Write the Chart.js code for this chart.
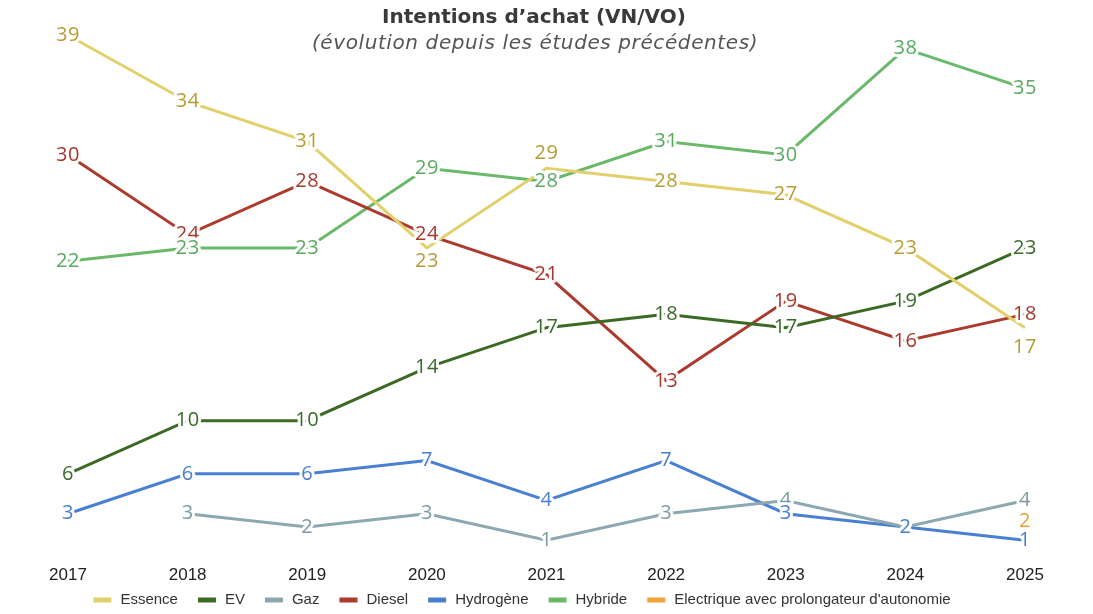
<!DOCTYPE html>
<html>
<head>
<meta charset="utf-8">
<script src="https://cdn.jsdelivr.net/npm/chart.js@4/dist/chart.umd.min.js"></script>
<style>
  html, body { margin: 0; padding: 0; background: #fff; }
  #wrap { width: 1093px; height: 614px; }
</style>
</head>
<body>
<div id="wrap"><canvas id="myChart"></canvas></div>
<script>
var years = ["2017", "2018", "2019", "2020", "2021", "2022", "2023", "2024", "2025"];

var essence = [39, 34, 31, 23, 29, 28, 27, 23, 17];
var ev = [6, 10, 10, 14, 17, 18, 17, 19, 23];
var gaz = [null, 3, 2, 3, 1, 3, 4, 2, 4];
var diesel = [30, 24, 28, 24, 21, 13, 19, 16, 18];
var hydrogene = [3, 6, 6, 7, 4, 7, 3, 2, 1];
var hybride = [22, 23, 23, 29, 28, 31, 30, 38, 35];
var electrique = [null, null, null, null, null, null, null, null, 2];

// label nudges (px) where labels would overlap
var labelShift = {
    "Essence": {3: 13, 4: -15, 8: 20},
    "Electrique avec prolongateur d'autonomie": {8: -6}
};

function serie(label, values, line, text) {
    return {
        label: label,
        data: values,
        borderColor: line,
        backgroundColor: line,
        labelColor: text,
        borderWidth: 3,
        pointRadius: 0,
        pointHoverRadius: 0,
        tension: 0,
        spanGaps: false
    };
}

var titlePlugin = {
    id: 'titres',
    beforeDatasetsDraw: function (chart) {
        var c = chart.ctx;
        c.save();
        c.textAlign = 'center';
        c.textBaseline = 'middle';
        c.fillStyle = '#3a3a3a';
        c.font = 'bold 20px "DejaVu Sans"';
        c.fillText("Intentions d\u2019achat (VN/VO)", 534, 18);
        c.fillStyle = '#555';
        c.font = 'oblique 20px "DejaVu Sans"';
        c.letterSpacing = '0.6px';
        c.fillText("(\u00e9volution depuis les \u00e9tudes pr\u00e9c\u00e9dentes)", 535, 44);
        c.restore();
    }
};

var valuesPlugin = {
    id: 'valeurs',
    afterDatasetsDraw: function (chart) {
        var c = chart.ctx;
        c.save();
        c.textAlign = 'center';
        c.textBaseline = 'middle';
        c.font = '20px "Open Sans"';
        c.letterSpacing = '0.5px';
        c.lineJoin = 'round';
        chart.data.datasets.forEach(function (ds, i) {
            var meta = chart.getDatasetMeta(i);
            var shift = labelShift[ds.label] || {};
            meta.data.forEach(function (pt, j) {
                if (ds.data[j] === null) return;
                var x = pt.x, y = pt.y + (shift[j] || 0);
                c.strokeStyle = 'rgba(255,255,255,0.95)';
                c.lineWidth = 6;
                c.strokeText(ds.data[j], x, y);
                c.fillStyle = ds.labelColor;
                c.fillText(ds.data[j], x, y);
            });
        });
        c.restore();
    }
};

// bottom legend: short coloured bars
var legendPlugin = {
    id: 'legende',
    afterDraw: function (chart) {
        var c = chart.ctx;
        var items = chart.data.datasets;
        c.save();
        c.font = '15px "Liberation Sans"';
        c.textBaseline = 'middle';
        var boxW = 18, gap = 9, sep = 20, total = 0;
        items.forEach(function (ds, i) {
            total += boxW + gap + c.measureText(ds.label).width + (i ? sep : 0);
        });
        var x = 522 - total / 2, y = 600;
        items.forEach(function (ds) {
            c.fillStyle = ds.borderColor;
            c.fillRect(x, y - 2.5, boxW, 5);
            x += boxW + gap;
            c.fillStyle = '#333';
            c.fillText(ds.label, x, y);
            x += c.measureText(ds.label).width + sep;
        });
        c.restore();
    }
};

var ctx = document.getElementById("myChart").getContext("2d");

var myChart = new Chart(ctx, {
    type: 'line',
    data: {
        labels: years,
        datasets: [
            serie("Essence", essence, '#e2d06c', '#b59d33'),
            serie("EV", ev, '#3c6a24', '#3a6a2c'),
            serie("Gaz", gaz, '#8ca8b0', '#7d9aa2'),
            serie("Diesel", diesel, '#ac3a2e', '#a4382f'),
            serie("Hydrog\u00e8ne", hydrogene, '#4a80d2', '#4a7ed0'),
            serie("Hybride", hybride, '#6ab86a', '#5aa862'),
            serie("Electrique avec prolongateur d'autonomie", electrique, '#f2a43a', '#eea030')
        ]
    },
    options: {
        responsive: true,
        maintainAspectRatio: false,
        animation: false,
        layout: {padding: {left: 68, right: 68, top: 22, bottom: 16}},
        scales: {
            x: {
                offset: false,
                grid: {display: false, drawTicks: false},
                border: {display: false},
                ticks: {color: '#222', font: {family: '"Liberation Sans"', size: 17}, padding: 12, maxRotation: 0}
            },
            y: {
                display: false,
                min: 0,
                max: 40
            }
        },
        plugins: {
            legend: {display: false},
            tooltip: {enabled: false}
        }
    },
    plugins: [titlePlugin, valuesPlugin, legendPlugin]
});
</script>
</body>
</html>
